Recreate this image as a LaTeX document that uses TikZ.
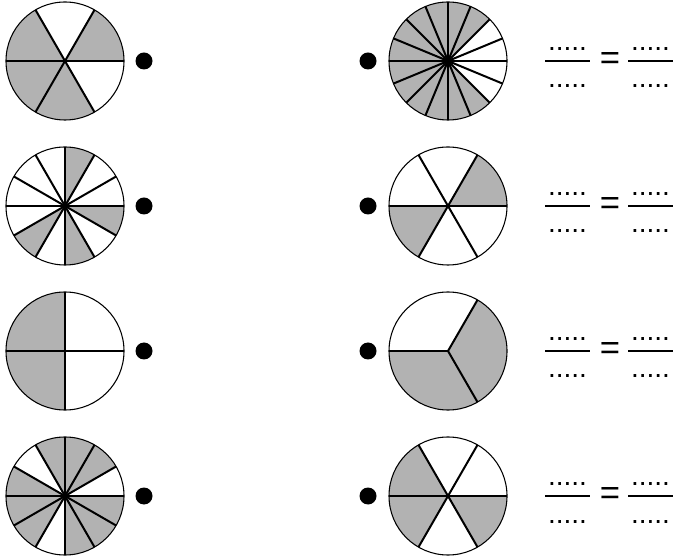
\documentclass[tikz,border=0pt]{standalone}
\usepackage{fontspec}
\setmainfont{Liberation Sans}
\usepackage{tikz}

% one wheel: centre, number of parts, angle of first spoke, grey parts
\newcommand{\fracwheel}[4]{%
  \foreach \k in {#4} {
    \fill[piegray] (#1) -- ++({#3+\k*360/#2}:59)
      arc[start angle={#3+\k*360/#2}, delta angle={360/#2}, radius=59] -- cycle;
  }
  \foreach \k in {1,...,#2} {
    \draw[spoke] (#1) -- ++({#3+\k*360/#2}:59);
  }
  \draw[rim] (#1) circle[radius=59];
}

% blank fraction pair ..... = .....
\newcommand{\blankfrac}[2]{%
  \draw[bar] (545,#1) -- (590,#1);
  \draw[bar] (628,#1) -- (673,#1);
  \node[dots] (num#2a) at (567.5,#1+10) {.....};
  \node[dots] (den#2a) at (567.5,#1-27) {.....};
  \node[dots] (num#2b) at (650.5,#1+10) {.....};
  \node[dots] (den#2b) at (650.5,#1-27) {.....};
  \node[font=\fontsize{26}{28}\selectfont, inner sep=0pt] (eq#2) at (610,#1) {=};
}

\begin{document}
\begin{tikzpicture}[x=0.75pt, y=0.75pt,
    piegray/.style={fill=black!30},
    spoke/.style={line width=1.5pt},
    rim/.style={line width=0.8pt},
    bar/.style={line width=1.6pt},
    dots/.style={font=\fontsize{21}{24}\selectfont, anchor=base, inner sep=0pt}]
    \useasboundingbox (0,0) rectangle (673,556);

    % Left column of wheels
    \fracwheel{65,495}{6}{0}{0,2,3,4}
    \fracwheel{65,350}{12}{0}{2,7,9,11}
    \fracwheel{65,205}{4}{0}{1,2}
    \fracwheel{65,60}{12}{0}{1,2,3,5,6,7,9,10,11}

    % Right column of wheels
    \fracwheel{448,495}{16}{0}{2,...,13}
    \fracwheel{448,350}{6}{0}{0,3}
    \fracwheel{448,205}{3}{60}{1,2}
    \fracwheel{448,60}{6}{0}{2,3,5}

    % Matching dots
    \foreach \y in {495,350,205,60} {
      \fill (144,\y) circle[radius=8.5];
      \fill (368,\y) circle[radius=8.5];
    }

    % Fractions to fill in
    \blankfrac{495}{1}
    \blankfrac{350}{2}
    \blankfrac{205}{3}
    \blankfrac{60}{4}
\end{tikzpicture}
\end{document}
